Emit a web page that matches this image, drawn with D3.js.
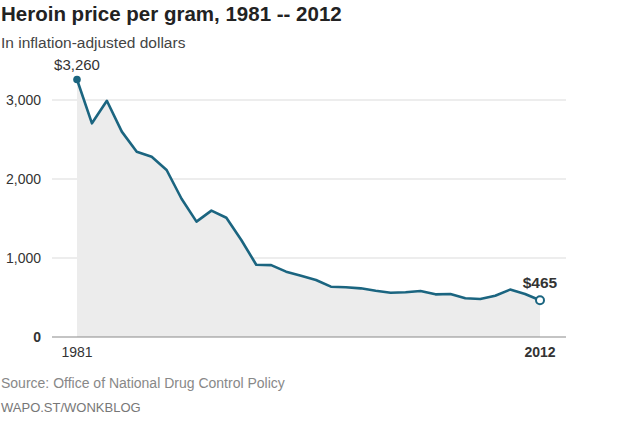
<!DOCTYPE html>
<html>
<head>
<meta charset="utf-8">
<script src="https://cdn.jsdelivr.net/npm/d3@7"></script>
<style>
  body { margin: 0; background: #fff; }
  svg text { font-family: "Liberation Sans", Arial, sans-serif; }
</style>
</head>
<body>
<div id="chart"></div>
<script>
// heroin price per gram, inflation-adjusted dollars
var years = d3.range(1981, 2013);
var prices = [3260, 2705, 2990, 2600, 2346, 2282, 2114, 1750, 1460, 1600, 1510,
              1228, 915, 910, 827, 776, 722, 637, 629, 616, 586, 561, 566,
              582, 540, 544, 490, 481, 523, 600, 545, 465];
var yTicks = [0, 1000, 2000, 3000];
var xTickYears = [1981, 2012];

var width = 618, height = 423;
var data = years.map(function (y, i) { return {year: y, value: prices[i]}; });

var svg = d3.select("#chart").append("svg")
    .attr("width", width)
    .attr("height", height);

var x = d3.scaleLinear().domain([1981, 2012]).range([77, 540]);
var y = d3.scaleLinear().domain([0, 3000]).range([337, 100]);

// title and subtitle
svg.append("text")
    .attr("x", 1).attr("y", 21)
    .style("font-size", "20.5px")
    .style("font-weight", "bold")
    .style("fill", "#222")
    .text("Heroin price per gram, 1981 -- 2012");

svg.append("text")
    .attr("x", 1).attr("y", 48)
    .style("font-size", "15.5px")
    .style("fill", "#444")
    .text("In inflation-adjusted dollars");

// gridlines
var gridLeft = 52, gridRight = 566;
svg.selectAll("line.grid")
    .data(yTicks.filter(function (d) { return d > 0; }))
    .enter().append("line")
    .attr("class", "grid")
    .attr("x1", gridLeft).attr("x2", gridRight)
    .attr("y1", function (d) { return y(d); })
    .attr("y2", function (d) { return y(d); })
    .style("stroke", "#dcdcdc")
    .style("stroke-width", 1.2);

// area
var area = d3.area()
    .x(function (d) { return x(d.year); })
    .y0(y(0))
    .y1(function (d) { return y(d.value); });

svg.append("path")
    .datum(data)
    .attr("d", area)
    .style("fill", "#ececec");

// zero line
svg.append("line")
    .attr("x1", gridLeft).attr("x2", gridRight)
    .attr("y1", y(0)).attr("y2", y(0))
    .style("stroke", "#8a8a8a")
    .style("stroke-width", 1.2);

// y labels
svg.selectAll("text.ylab")
    .data(yTicks)
    .enter().append("text")
    .attr("class", "ylab")
    .attr("x", 41)
    .attr("y", function (d) { return y(d) + 5; })
    .attr("text-anchor", "end")
    .style("font-size", "14px")
    .style("font-weight", function (d) { return d === 0 ? "bold" : "normal"; })
    .style("fill", "#333")
    .text(function (d) { return d3.format(",")(d); });

// x labels
svg.selectAll("text.xlab")
    .data(xTickYears)
    .enter().append("text")
    .attr("class", "xlab")
    .attr("x", function (d) { return x(d); })
    .attr("y", 357)
    .attr("text-anchor", "middle")
    .style("font-size", "14px")
    .style("font-weight", function (d) { return d === 2012 ? "bold" : "normal"; })
    .style("fill", "#333")
    .text(function (d) { return d; });

// line
var line = d3.line()
    .x(function (d) { return x(d.year); })
    .y(function (d) { return y(d.value); });

svg.append("path")
    .datum(data)
    .attr("d", line)
    .style("fill", "none")
    .style("stroke", "#1b6580")
    .style("stroke-width", 2.6)
    .style("stroke-linejoin", "round");

// end points
var first = data[0], last = data[data.length - 1];
svg.append("circle")
    .attr("cx", x(first.year)).attr("cy", y(first.value))
    .attr("r", 3.8)
    .style("fill", "#1b6580");

svg.append("circle")
    .attr("cx", x(last.year)).attr("cy", y(last.value))
    .attr("r", 4)
    .style("fill", "#fff")
    .style("stroke", "#1b6580")
    .style("stroke-width", 2);

svg.append("text")
    .attr("x", x(first.year)).attr("y", y(first.value) - 9)
    .attr("text-anchor", "middle")
    .style("font-size", "15px")
    .style("fill", "#333")
    .text("$" + d3.format(",")(first.value));

svg.append("text")
    .attr("x", x(last.year)).attr("y", y(last.value) - 12)
    .attr("text-anchor", "middle")
    .style("font-size", "15.5px")
    .style("font-weight", "bold")
    .style("fill", "#333")
    .text("$" + d3.format(",")(last.value));

// footer
svg.append("text")
    .attr("x", 1).attr("y", 388)
    .style("font-size", "14px")
    .style("fill", "#888")
    .text("Source: Office of National Drug Control Policy");

svg.append("text")
    .attr("x", 1).attr("y", 412)
    .style("font-size", "13px")
    .style("fill", "#777")
    .text("WAPO.ST/WONKBLOG");
</script>
</body>
</html>
